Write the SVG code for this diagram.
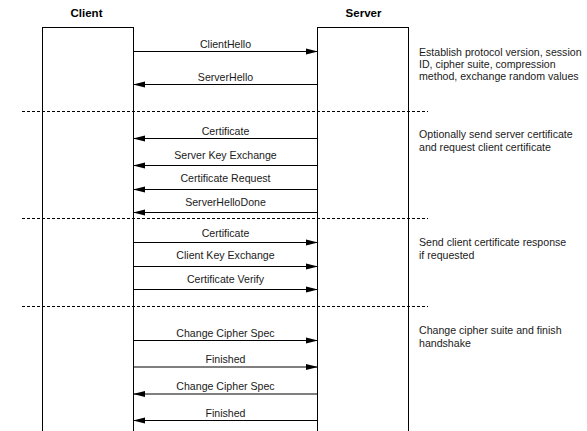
<svg xmlns="http://www.w3.org/2000/svg" width="587" height="431" viewBox="0 0 587 431">
  <style>
    .bg { fill: #ffffff; }
    .lane { fill: #ffffff; stroke: #000000; stroke-width: 1; }
    .title { font-family: "Liberation Sans", Arial, sans-serif; font-size: 11.5px; font-weight: bold; fill: #000000; text-anchor: middle; }
    .msg { stroke: #000000; stroke-width: 1; fill: none; }
    .label { font-family: "Liberation Sans", Arial, sans-serif; font-size: 10.6px; fill: #1a1a1a; text-anchor: middle; }
    .note { font-family: "Liberation Sans", Arial, sans-serif; font-size: 10.6px; fill: #1a1a1a; }
    .sep { stroke: #000000; stroke-width: 1; stroke-dasharray: 3 2; fill: none; }
  </style>
  <defs>
    <marker id="head" markerUnits="userSpaceOnUse" markerWidth="12" markerHeight="7" refX="12" refY="3.5" orient="auto">
      <path d="M0,0.5 L12,3.5 L0,6.5 z" fill="#000000"/>
    </marker>
  </defs>

  <rect class="bg" x="0" y="0" width="587" height="431"/>

  <!-- participants -->
  <g id="client">
    <rect class="lane" x="42.5" y="27.5" width="91" height="420"/>
    <text class="title" x="86.5" y="17">Client</text>
  </g>
  <g id="server">
    <rect class="lane" x="317.5" y="27.5" width="91" height="420"/>
    <text class="title" x="363.5" y="17">Server</text>
  </g>

  <!-- phase separators -->
  <g id="separators">
    <line class="sep" x1="22" y1="111.5" x2="428" y2="111.5"/>
    <line class="sep" x1="22" y1="218.5" x2="428" y2="218.5"/>
    <line class="sep" x1="22" y1="306.5" x2="428" y2="306.5"/>
  </g>

  <!-- messages -->
  <g id="connectors">
    <line class="msg" x1="133.5" y1="51.5" x2="318" y2="51.5" marker-end="url(#head)"/>
    <line class="msg" x1="317.5" y1="84.5" x2="133" y2="84.5" marker-end="url(#head)"/>

    <line class="msg" x1="317.5" y1="138.5" x2="133" y2="138.5" marker-end="url(#head)"/>
    <line class="msg" x1="317.5" y1="165.5" x2="133" y2="165.5" marker-end="url(#head)"/>
    <line class="msg" x1="317.5" y1="189.5" x2="133" y2="189.5" marker-end="url(#head)"/>
    <line class="msg" x1="317.5" y1="212.5" x2="133" y2="212.5" marker-end="url(#head)"/>

    <line class="msg" x1="133.5" y1="242.5" x2="318" y2="242.5" marker-end="url(#head)"/>
    <line class="msg" x1="133.5" y1="266.5" x2="318" y2="266.5" marker-end="url(#head)"/>
    <line class="msg" x1="133.5" y1="289.5" x2="318" y2="289.5" marker-end="url(#head)"/>

    <line class="msg" x1="133.5" y1="340.5" x2="318" y2="340.5" marker-end="url(#head)"/>
    <line class="msg" x1="133.5" y1="367" x2="318" y2="367" marker-end="url(#head)"/>
    <line class="msg" x1="317.5" y1="394" x2="133" y2="394" marker-end="url(#head)"/>
    <line class="msg" x1="317.5" y1="420.5" x2="133" y2="420.5" marker-end="url(#head)"/>
  </g>

  <!-- message labels -->
  <g id="labels">
    <text class="label" x="225.5" y="48">ClientHello</text>
    <text class="label" x="225.5" y="80.5">ServerHello</text>

    <text class="label" x="225.5" y="135">Certificate</text>
    <text class="label" x="225.5" y="158.5">Server Key Exchange</text>
    <text class="label" x="225.5" y="182">Certificate Request</text>
    <text class="label" x="225.5" y="205.5">ServerHelloDone</text>

    <text class="label" x="225.5" y="236.5">Certificate</text>
    <text class="label" x="225.5" y="259">Client Key Exchange</text>
    <text class="label" x="225.5" y="283">Certificate Verify</text>

    <text class="label" x="225.5" y="336.5">Change Cipher Spec</text>
    <text class="label" x="225.5" y="363">Finished</text>
    <text class="label" x="225.5" y="390">Change Cipher Spec</text>
    <text class="label" x="225.5" y="417">Finished</text>
  </g>

  <!-- phase notes -->
  <g id="notes">
    <text class="note" x="419" y="55.5">Establish protocol version, session</text>
    <text class="note" x="419" y="67.5">ID, cipher suite, compression</text>
    <text class="note" x="419" y="79.5">method, exchange random values</text>

    <text class="note" x="419" y="137.5">Optionally send server certificate</text>
    <text class="note" x="419" y="151">and request client certificate</text>

    <text class="note" x="419" y="245.5">Send client certificate response</text>
    <text class="note" x="419" y="259">if requested</text>

    <text class="note" x="419" y="333.5">Change cipher suite and finish</text>
    <text class="note" x="419" y="347">handshake</text>
  </g>
</svg>
